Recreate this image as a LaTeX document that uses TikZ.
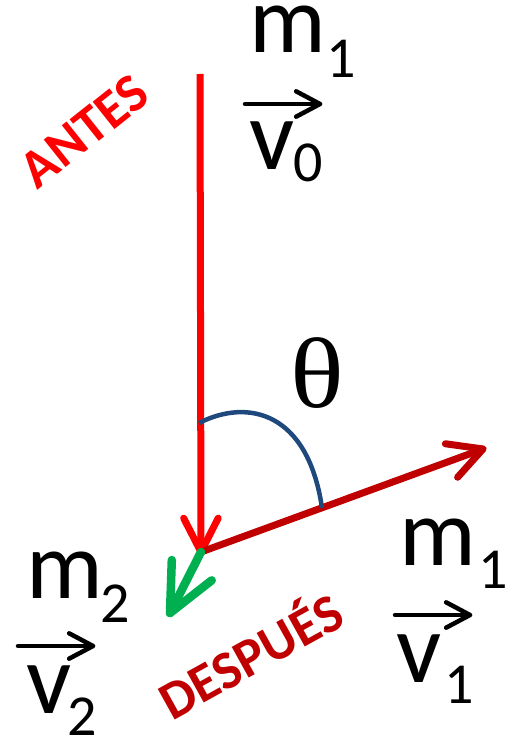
\documentclass[tikz,border=0pt]{standalone}
\usepackage{fontspec}
\setmainfont{Carlito}
\newfontfamily\thetafont{Liberation Serif}
\usetikzlibrary{calc}
\definecolor{vred}{RGB}{255,0,0}
\definecolor{dred}{RGB}{192,0,0}
\definecolor{vgreen}{RGB}{0,176,80}
\definecolor{arcblue}{RGB}{31,73,125}
\tikzset{
  lbl/.style={inner sep=0pt, anchor=base west, text=black},
  big/.style={lbl, font=\fontsize{96}{80}\selectfont},
  bigv/.style={lbl, font=\fontsize{100}{80}\selectfont},
  sub/.style={lbl, font=\fontsize{58}{50}\selectfont},
  vecline/.style={line width=4.5pt, black, line cap=round, line join=round},
  redvec/.style={line width=7pt, vred, line cap=butt, line join=round},
  dredvec/.style={line width=7pt, dred, line cap=round, line join=round},
  greenvec/.style={line width=8.5pt, vgreen, line cap=round, line join=round},
  word/.style={inner sep=0pt, font=\bfseries\fontsize{54}{54}\selectfont}
}
\begin{document}
\begin{tikzpicture}[x=1pt,y=-1pt]
\useasboundingbox (0,0) rectangle (511,738);
% main points
\coordinate (top) at (200,74);
\coordinate (o) at (201,552);
\coordinate (t1) at (483,449);
\coordinate (t2) at (170,613);
% red vertical vector
\draw[redvec] (top) -- (o);
\draw[redvec, line cap=round] ($(o)!38pt!27:(top)$) -- (o) -- ($(o)!38pt!-27:(top)$);
% dark red vector
\draw[dredvec] (o) -- (t1);
\draw[dredvec] ($(t1)!38pt!28:(o)$) -- (t1) -- ($(t1)!38pt!-28:(o)$);
% green vector
\draw[greenvec] (o) -- (t2);
\draw[greenvec] ($(t2)!53pt!25:(o)$) -- (t2) -- ($(t2)!53pt!-25:(o)$);
% angle arc
\coordinate (a0) at (199,423);
\coordinate (a1) at (322,508);
\draw[arcblue, line width=4.5pt] (a0) .. controls (248,398) and (308,412) .. (a1);
\node[lbl, font=\thetafont\fontsize{100}{80}\selectfont] (theta) at (290,407) {\scalebox{1.12}[1]{θ}};
% words
\node[word, text=vred, rotate=38.5] (antes) at (84,131) {ANTES};
\node[word, text=dred, rotate=29] (despues) at (249,653) {DESPUÉS};
% top label m1 v0
\node[big] (mA) at (249,53) {m};
\node[sub] (mAs) at (326,78) {1};
\node[bigv] (vA) at (249,170) {v};
\node[sub] (vAs) at (293,182) {0};
\coordinate (arA0) at (245,104);
\coordinate (arA1) at (320,104);
\draw[vecline] (arA0) -- (arA1);
\draw[vecline] ($(arA1)!27pt!28:(arA0)$) -- (arA1) -- ($(arA1)!27pt!-28:(arA0)$);
% right label m1 v1
\node[big] (mB) at (399,565) {m};
\node[sub] (mBs) at (478,588) {1};
\node[bigv] (vB) at (396,682) {v};
\node[sub] (vBs) at (444,703) {1};
\coordinate (arB0) at (395,615);
\coordinate (arB1) at (470,615);
\draw[vecline] (arB0) -- (arB1);
\draw[vecline] ($(arB1)!27pt!28:(arB0)$) -- (arB1) -- ($(arB1)!27pt!-28:(arB0)$);
% left label m2 v2
\node[big] (mC) at (26,598) {m};
\node[sub] (mCs) at (100,622) {2};
\node[bigv] (vC) at (26,713) {v};
\node[sub] (vCs) at (67,735) {2};
\coordinate (arC0) at (18,646);
\coordinate (arC1) at (93,646);
\draw[vecline] (arC0) -- (arC1);
\draw[vecline] ($(arC1)!27pt!28:(arC0)$) -- (arC1) -- ($(arC1)!27pt!-28:(arC0)$);
\end{tikzpicture}
\end{document}
